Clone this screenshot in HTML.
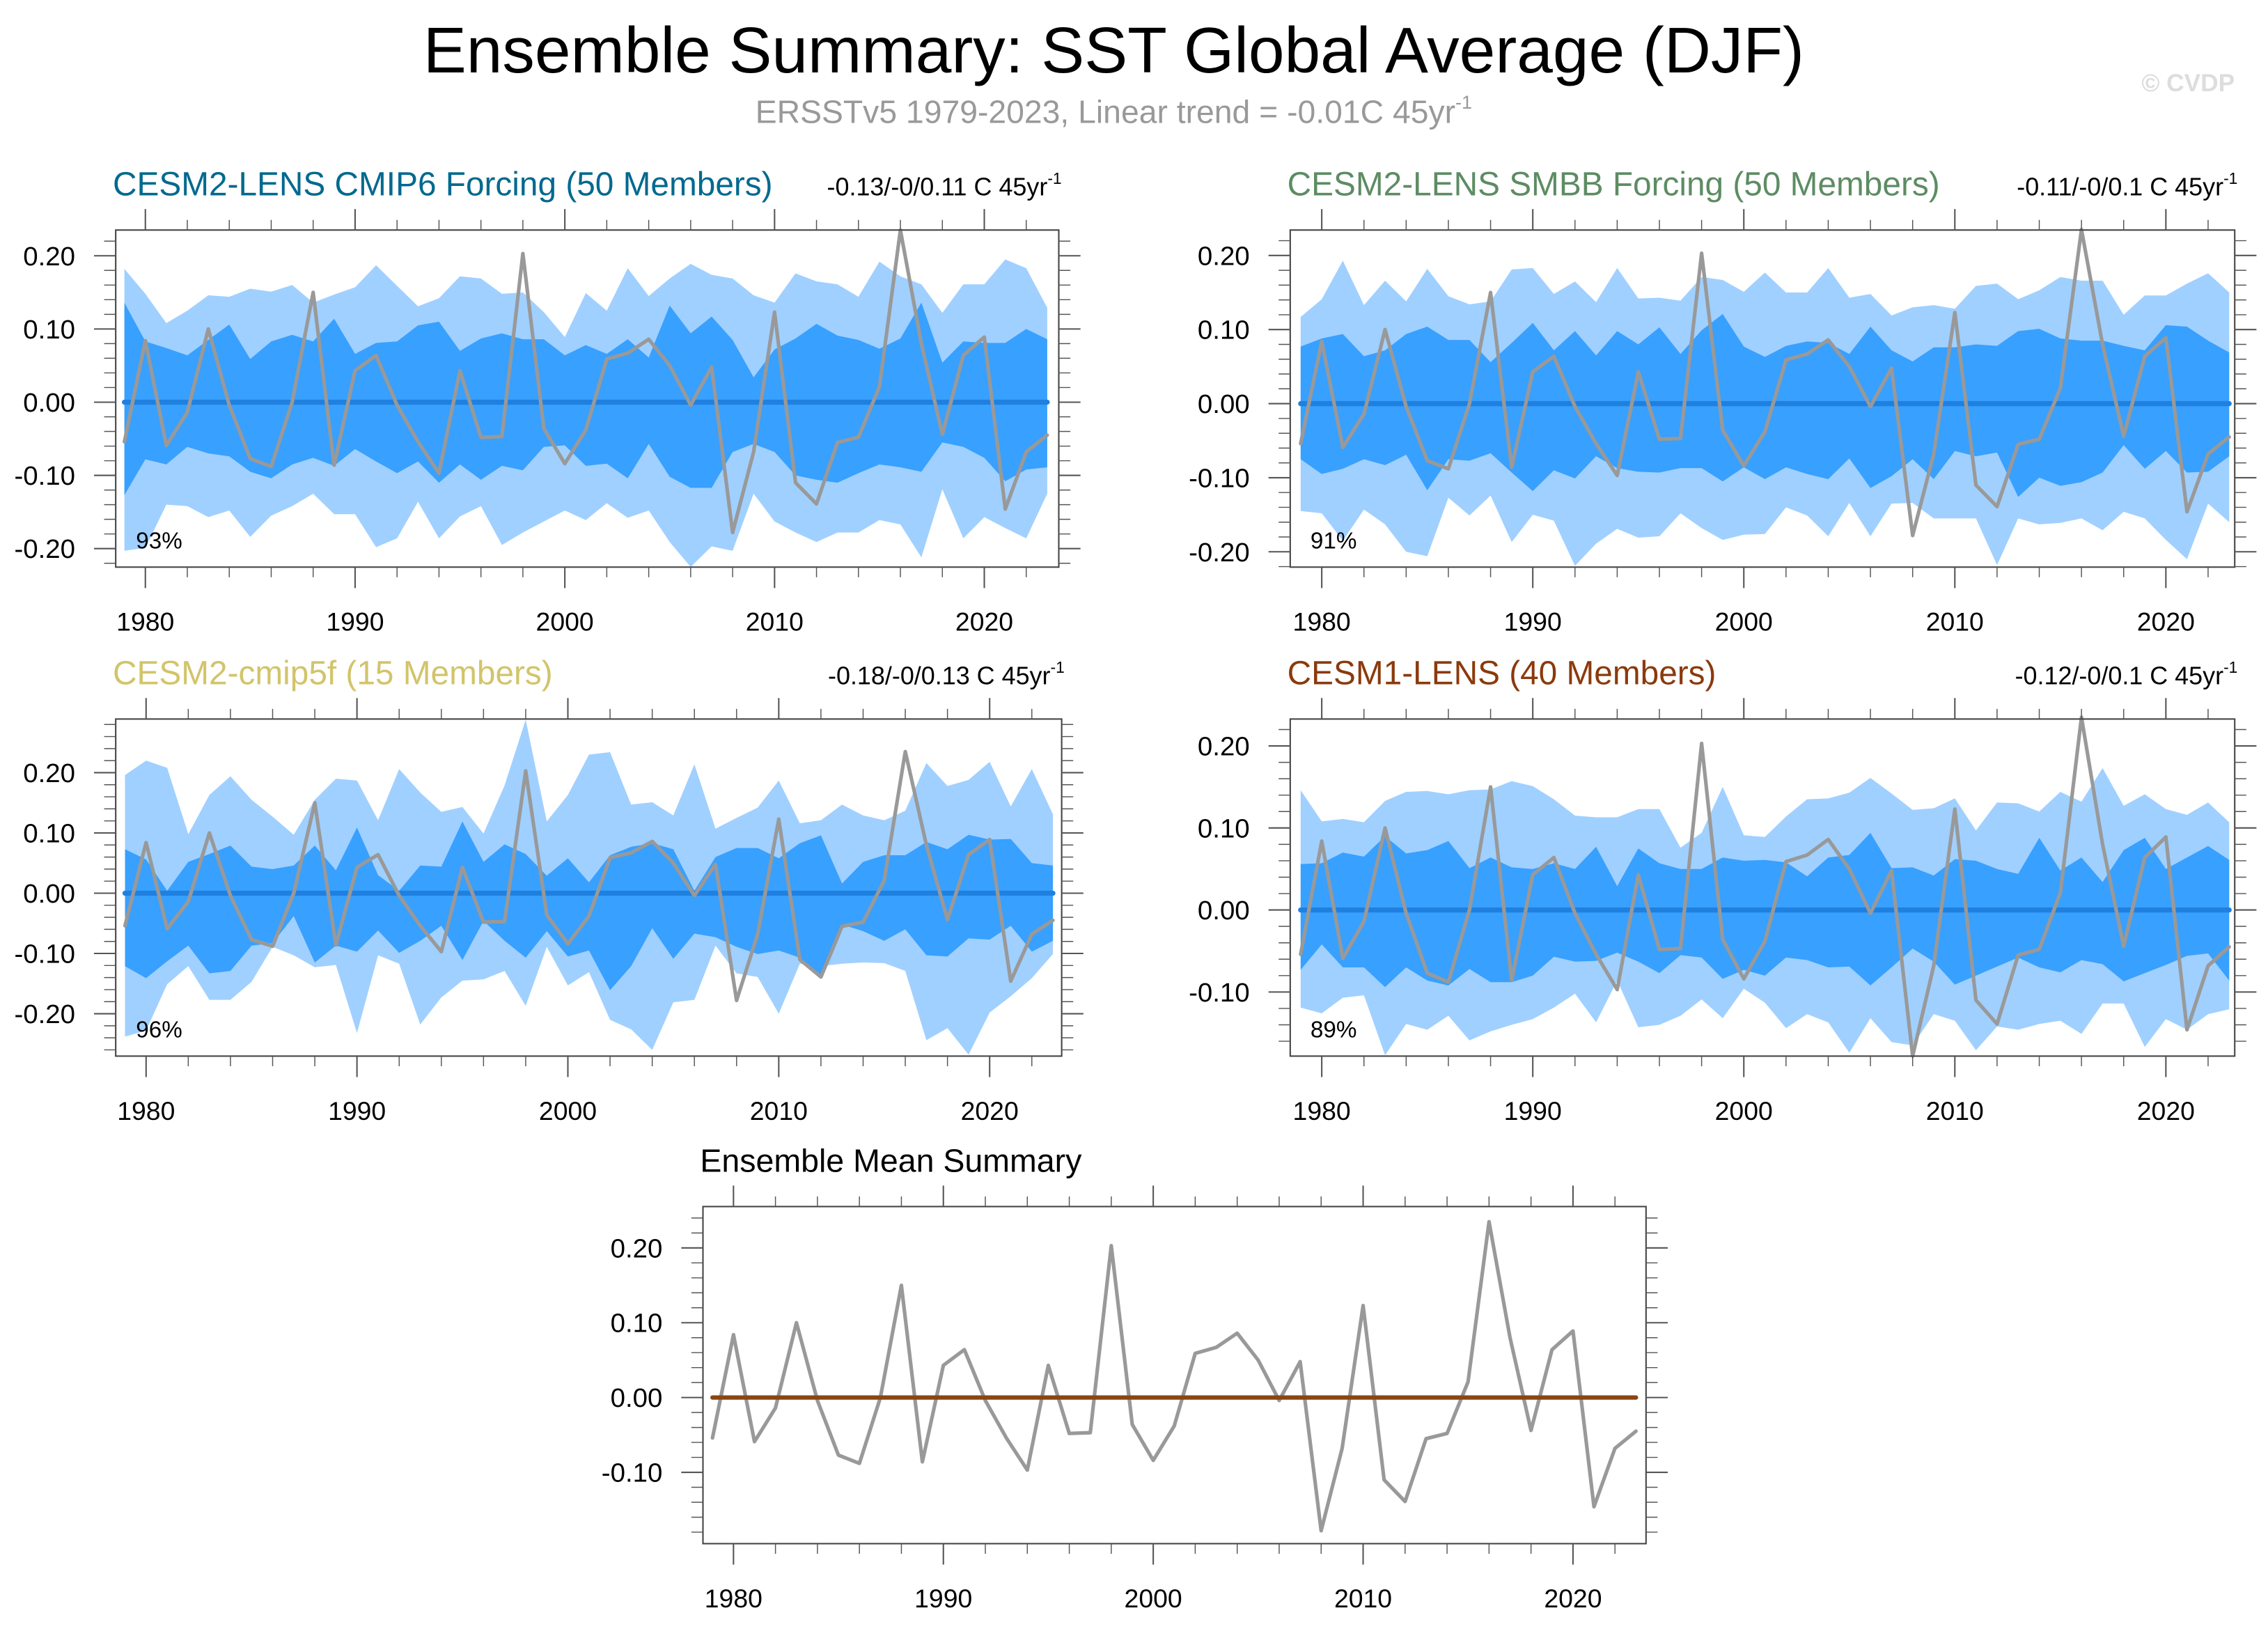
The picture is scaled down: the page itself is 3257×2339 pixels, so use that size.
<!DOCTYPE html>
<html><head><meta charset="utf-8"><title>Ensemble Summary: SST Global Average (DJF)</title>
<style>html,body{margin:0;padding:0;background:#fff}svg{display:block}text{font-family:"Liberation Sans",Arial,sans-serif}</style>
</head><body>
<svg id="chart" xmlns="http://www.w3.org/2000/svg" width="3257" height="2339" viewBox="0 0 1568 1126" preserveAspectRatio="none">
<rect x="0" y="0" width="1568" height="1126" fill="#fff"/>
<text x="770" y="50" font-size="44.7" text-anchor="middle" fill="#000">Ensemble Summary: SST Global Average (DJF)</text>
<text x="770" y="85" font-size="22.3" text-anchor="middle" fill="#999">ERSSTv5 1979-2023, Linear trend = -0.01C 45yr<tspan font-size="13" dy="-10">-1</tspan></text>
<text x="1545" y="63" font-size="17" font-weight="bold" text-anchor="end" fill="#ddd">© CVDP</text>
</svg>
<script>
const years=[1979,1980,1981,1982,1983,1984,1985,1986,1987,1988,1989,1990,1991,1992,1993,1994,1995,1996,1997,1998,1999,2000,2001,2002,2003,2004,2005,2006,2007,2008,2009,2010,2011,2012,2013,2014,2015,2016,2017,2018,2019,2020,2021,2022,2023];
const obsValues=[-0.054,0.084,-0.059,-0.014,0.100,-0.004,-0.077,-0.088,0.000,0.150,-0.086,0.043,0.064,-0.004,-0.054,-0.097,0.043,-0.048,-0.047,0.203,-0.036,-0.084,-0.038,0.059,0.067,0.086,0.050,-0.004,0.048,-0.178,-0.068,0.123,-0.110,-0.139,-0.055,-0.048,0.021,0.235,0.080,-0.044,0.064,0.089,-0.146,-0.068,-0.045];
const meanValues=[0,0,0,0,0,0,0,0,0,0,0,0,0,0,0,0,0,0,0,0,0,0,0,0,0,0,0,0,0,0,0,0,0,0,0,0,0,0,0,0,0,0,0,0,0];

const p1OuterHi=[0.182,0.148,0.108,0.125,0.146,0.144,0.155,0.151,0.160,0.136,0.147,0.157,0.187,0.159,0.131,0.142,0.172,0.169,0.148,0.150,0.123,0.089,0.149,0.125,0.183,0.145,0.169,0.189,0.174,0.169,0.146,0.136,0.176,0.165,0.161,0.144,0.192,0.172,0.161,0.122,0.161,0.161,0.195,0.183,0.129];
const p1InnerHi=[0.136,0.083,0.074,0.064,0.085,0.106,0.059,0.083,0.092,0.083,0.114,0.066,0.081,0.083,0.105,0.110,0.070,0.087,0.094,0.086,0.086,0.064,0.078,0.066,0.086,0.061,0.132,0.094,0.117,0.085,0.034,0.072,0.087,0.107,0.091,0.085,0.073,0.087,0.136,0.054,0.083,0.081,0.081,0.100,0.086];
const p1InnerLo=[-0.127,-0.078,-0.085,-0.061,-0.070,-0.074,-0.095,-0.104,-0.085,-0.076,-0.087,-0.064,-0.081,-0.097,-0.081,-0.110,-0.085,-0.106,-0.087,-0.093,-0.061,-0.059,-0.087,-0.084,-0.104,-0.057,-0.102,-0.117,-0.117,-0.068,-0.057,-0.068,-0.100,-0.106,-0.110,-0.097,-0.085,-0.089,-0.095,-0.055,-0.061,-0.076,-0.108,-0.092,-0.089];
const p1OuterLo=[-0.203,-0.199,-0.140,-0.142,-0.157,-0.148,-0.184,-0.155,-0.142,-0.125,-0.153,-0.153,-0.198,-0.186,-0.136,-0.186,-0.156,-0.142,-0.195,-0.178,-0.163,-0.148,-0.161,-0.138,-0.158,-0.148,-0.191,-0.225,-0.197,-0.203,-0.125,-0.163,-0.178,-0.191,-0.178,-0.178,-0.161,-0.167,-0.212,-0.119,-0.186,-0.157,-0.172,-0.186,-0.125];

const p2OuterHi=[0.117,0.141,0.193,0.133,0.166,0.138,0.182,0.145,0.134,0.138,0.181,0.183,0.148,0.165,0.137,0.183,0.142,0.143,0.139,0.171,0.167,0.151,0.177,0.150,0.150,0.183,0.143,0.148,0.119,0.130,0.133,0.128,0.159,0.162,0.141,0.153,0.171,0.166,0.166,0.120,0.146,0.146,0.162,0.176,0.150];
const p2InnerHi=[0.077,0.088,0.094,0.064,0.072,0.094,0.104,0.086,0.086,0.056,0.082,0.109,0.072,0.098,0.065,0.098,0.080,0.103,0.067,0.099,0.121,0.077,0.063,0.078,0.084,0.082,0.067,0.104,0.072,0.057,0.076,0.076,0.080,0.078,0.098,0.101,0.088,0.085,0.085,0.078,0.072,0.106,0.104,0.085,0.069];
const p2InnerLo=[-0.075,-0.095,-0.088,-0.075,-0.083,-0.069,-0.117,-0.075,-0.077,-0.067,-0.093,-0.118,-0.090,-0.101,-0.071,-0.087,-0.092,-0.093,-0.087,-0.087,-0.105,-0.086,-0.102,-0.086,-0.095,-0.102,-0.074,-0.114,-0.098,-0.075,-0.102,-0.064,-0.071,-0.066,-0.126,-0.100,-0.111,-0.106,-0.093,-0.056,-0.088,-0.064,-0.093,-0.092,-0.071];
const p2OuterLo=[-0.145,-0.148,-0.185,-0.143,-0.163,-0.200,-0.206,-0.127,-0.151,-0.124,-0.187,-0.150,-0.158,-0.219,-0.189,-0.169,-0.181,-0.179,-0.148,-0.168,-0.184,-0.177,-0.176,-0.140,-0.151,-0.179,-0.134,-0.179,-0.135,-0.134,-0.155,-0.155,-0.155,-0.218,-0.155,-0.163,-0.161,-0.155,-0.171,-0.146,-0.155,-0.184,-0.210,-0.135,-0.160];

const p3OuterHi=[0.196,0.220,0.208,0.098,0.163,0.194,0.155,0.127,0.097,0.155,0.190,0.187,0.121,0.206,0.167,0.135,0.143,0.099,0.179,0.288,0.119,0.163,0.230,0.234,0.147,0.151,0.129,0.214,0.107,0.125,0.142,0.187,0.116,0.121,0.147,0.129,0.121,0.137,0.216,0.178,0.188,0.218,0.144,0.206,0.131];
const p3InnerHi=[0.073,0.056,0.004,0.052,0.065,0.079,0.044,0.040,0.046,0.079,0.038,0.109,0.030,0.004,0.046,0.044,0.119,0.052,0.081,0.065,0.029,0.058,0.018,0.063,0.077,0.083,0.073,0.004,0.060,0.075,0.075,0.058,0.083,0.096,0.016,0.052,0.063,0.063,0.085,0.073,0.097,0.089,0.090,0.050,0.046];
const p3InnerLo=[-0.121,-0.141,-0.113,-0.087,-0.133,-0.129,-0.087,-0.083,-0.038,-0.115,-0.087,-0.097,-0.062,-0.099,-0.079,-0.054,-0.111,-0.046,-0.079,-0.107,-0.063,-0.105,-0.095,-0.161,-0.121,-0.058,-0.109,-0.067,-0.073,-0.089,-0.101,-0.095,-0.107,-0.139,-0.052,-0.063,-0.079,-0.060,-0.103,-0.105,-0.075,-0.077,-0.054,-0.097,-0.079];
const p3OuterLo=[-0.238,-0.228,-0.151,-0.121,-0.177,-0.177,-0.147,-0.089,-0.103,-0.123,-0.119,-0.232,-0.103,-0.117,-0.218,-0.173,-0.145,-0.143,-0.129,-0.187,-0.089,-0.153,-0.131,-0.210,-0.226,-0.260,-0.181,-0.177,-0.087,-0.133,-0.139,-0.200,-0.117,-0.121,-0.117,-0.115,-0.116,-0.129,-0.244,-0.224,-0.268,-0.198,-0.171,-0.141,-0.101];

const p4OuterHi=[0.146,0.108,0.111,0.107,0.133,0.144,0.145,0.141,0.146,0.147,0.157,0.151,0.135,0.115,0.113,0.113,0.123,0.123,0.076,0.094,0.150,0.091,0.089,0.114,0.135,0.136,0.143,0.161,0.142,0.122,0.124,0.136,0.097,0.131,0.130,0.120,0.144,0.132,0.173,0.127,0.141,0.123,0.116,0.131,0.107];
const p4InnerHi=[0.056,0.057,0.070,0.065,0.090,0.069,0.073,0.084,0.051,0.064,0.052,0.050,0.057,0.050,0.077,0.029,0.075,0.057,0.050,0.050,0.064,0.060,0.061,0.058,0.041,0.064,0.067,0.094,0.051,0.052,0.042,0.062,0.060,0.050,0.044,0.088,0.048,0.064,0.034,0.073,0.088,0.050,0.064,0.078,0.061];
const p4InnerLo=[-0.073,-0.042,-0.070,-0.070,-0.094,-0.070,-0.086,-0.092,-0.072,-0.088,-0.088,-0.080,-0.057,-0.063,-0.062,-0.052,-0.063,-0.077,-0.055,-0.058,-0.084,-0.073,-0.080,-0.058,-0.061,-0.070,-0.069,-0.092,-0.070,-0.047,-0.063,-0.091,-0.080,-0.069,-0.058,-0.070,-0.076,-0.061,-0.066,-0.087,-0.077,-0.067,-0.056,-0.053,-0.086];
const p4OuterLo=[-0.119,-0.126,-0.107,-0.104,-0.177,-0.139,-0.146,-0.129,-0.159,-0.148,-0.140,-0.133,-0.119,-0.102,-0.137,-0.086,-0.143,-0.140,-0.129,-0.109,-0.132,-0.096,-0.113,-0.144,-0.127,-0.137,-0.174,-0.132,-0.161,-0.165,-0.127,-0.135,-0.171,-0.142,-0.146,-0.139,-0.135,-0.151,-0.114,-0.114,-0.167,-0.133,-0.146,-0.127,-0.121];

const xTickLabels=["1980","1990","2000","2010","2020"];
const yTickLabelsA=["0.20","0.10","0.00","-0.10","-0.20"];
const yTickLabelsB=["0.20","0.10","0.00","-0.10"];

const NS="http://www.w3.org/2000/svg";
const svg=document.getElementById('chart');
function mk(tag,attrs,parent){const e=document.createElementNS(NS,tag);for(const k in attrs)e.setAttribute(k,attrs[k]);(parent||svg).appendChild(e);return e;}

function drawPanel(c){
  const g=mk('g',{});
  
  
  const xS=yr=>c.x1980+(yr-1980)*c.pxYear;
  const yS=v=>c.y0-v*c.pxTenth*10;
  function band(hi,lo,fill,name){
    let d='M'+years.map((yr,i)=>xS(yr).toFixed(2)+','+yS(hi[i]).toFixed(2)).join('L');
    for(let i=years.length-1;i>=0;i--)d+='L'+xS(years[i]).toFixed(2)+','+yS(lo[i]).toFixed(2);
    const p=mk('path',{d:d+'Z',fill:fill},g);
    
    
  }
  if(c.outerHi){band(c.outerHi,c.outerLo,'#a0d0ff','outer-spread-band');band(c.innerHi,c.innerLo,'#38a0ff','inner-spread-band');}
  function line(vals,col,w,name){
    const p=mk('path',{d:'M'+years.map((yr,i)=>xS(yr).toFixed(2)+','+yS(vals[i]).toFixed(2)).join('L'),fill:'none',stroke:col,'stroke-width':w,'stroke-linejoin':'round','stroke-linecap':'round'},g);
    
    
  }
  if(c.outerHi){line(meanValues,'#1f80e0',3.5,'ensemble-mean-line');line(obsValues,'#999',2.5,'observed-line');}
  else{line(obsValues,'#999',2.5,'observed-line');line(meanValues,'#8b4513',3,'ensemble-mean-line');}
  const b=mk('rect',{x:c.L,y:c.T,width:c.R-c.L,height:c.B-c.T,fill:'none',stroke:'#444','stroke-width':1},g);
  
  
  for(let yr=1980;yr<=2022;yr+=2){
    const x=xS(yr);const major=(yr%10===0);const len=major?14.5:7;
    mk('line',{x1:x,y1:c.T,x2:x,y2:c.T-len,stroke:'#555','stroke-width':major?1:0.7},g);
    mk('line',{x1:x,y1:c.B,x2:x,y2:c.B+len,stroke:'#555','stroke-width':major?1:0.7},g);
  }
  xTickLabels.forEach((lab,i)=>{
    const t=mk('text',{x:xS(+lab),y:c.B+44,'font-size':18,'text-anchor':'middle',fill:'#000'},g);
    t.textContent=lab;
    
    
  });
  const vTop=(c.y0-c.T)/(c.pxTenth*10), vBot=(c.y0-c.B)/(c.pxTenth*10);
  for(let k=Math.ceil(vBot*50);k<=Math.floor(vTop*50);k++){
    const v=k/50;const y=yS(v);const major=(k%5===0);const len=major?15:8;
    mk('line',{x1:c.L,y1:y,x2:c.L-len,y2:y,stroke:'#555','stroke-width':major?1:0.7},g);
    mk('line',{x1:c.R,y1:y,x2:c.R+len,y2:y,stroke:'#555','stroke-width':major?1:0.7},g);
  }
  c.yLabels.forEach(lab=>{
    const t=mk('text',{x:c.L-28,y:yS(parseFloat(lab))+6.5,'font-size':18.5,'text-anchor':'end',fill:'#000'},g);
    t.textContent=lab;
    
    
  });
  const tt=mk('text',{x:c.L-2,y:c.T-24,'font-size':c.titleSize||23,fill:c.titleColor},g);
  tt.textContent=c.title;
  
  
  if(c.trend){
    const tr=mk('text',{x:c.R+2,y:c.T-24,'font-size':17.3,'text-anchor':'end',fill:'#000'},g);
    tr.innerHTML=c.trend+'<tspan font-size="11" dy="-8">-1</tspan>';
    
    
  }
  if(c.pct){
    const pt=mk('text',{x:c.L+14,y:c.B-13,'font-size':16,fill:'#000'},g);
    pt.textContent=c.pct;
    
    
  }
}

drawPanel({name:'panel-cesm2-lens-cmip6',L:80,R:732,T:159,B:392,x1980:100.5,pxYear:14.5,y0:278,pxTenth:50.6,
  outerHi:p1OuterHi,innerHi:p1InnerHi,innerLo:p1InnerLo,outerLo:p1OuterLo,yLabels:yTickLabelsA,
  title:'CESM2-LENS CMIP6 Forcing (50 Members)',titleColor:'#00698f',trend:'-0.13/-0/0.11 C 45yr',pct:'93%'});
drawPanel({name:'panel-cesm2-lens-smbb',L:892,R:1545,T:159,B:392,x1980:913.8,pxYear:14.59,y0:279,pxTenth:51.2,
  outerHi:p2OuterHi,innerHi:p2InnerHi,innerLo:p2InnerLo,outerLo:p2OuterLo,yLabels:yTickLabelsA,
  title:'CESM2-LENS SMBB Forcing (50 Members)',titleColor:'#5d8c63',trend:'-0.11/-0/0.1 C 45yr',pct:'91%'});
drawPanel({name:'panel-cesm2-cmip5f',L:80,R:734,T:497,B:730,x1980:101.0,pxYear:14.58,y0:617.4,pxTenth:41.65,
  outerHi:p3OuterHi,innerHi:p3InnerHi,innerLo:p3InnerLo,outerLo:p3OuterLo,yLabels:yTickLabelsA,
  title:'CESM2-cmip5f (15 Members)',titleColor:'#d2c46a',trend:'-0.18/-0/0.13 C 45yr',pct:'96%'});
drawPanel({name:'panel-cesm1-lens',L:892,R:1545,T:497,B:730,x1980:913.8,pxYear:14.59,y0:629,pxTenth:56.7,
  outerHi:p4OuterHi,innerHi:p4InnerHi,innerLo:p4InnerLo,outerLo:p4OuterLo,yLabels:yTickLabelsB,
  title:'CESM1-LENS (40 Members)',titleColor:'#8b3a0c',trend:'-0.12/-0/0.1 C 45yr',pct:'89%'});
drawPanel({name:'panel-ensemble-mean-summary',L:486,R:1138,T:834,B:1067,x1980:507.1,pxYear:14.51,y0:966,pxTenth:51.7,
  yLabels:yTickLabelsB,title:'Ensemble Mean Summary',titleColor:'#000',titleSize:22.4});
</script>
</body></html>
